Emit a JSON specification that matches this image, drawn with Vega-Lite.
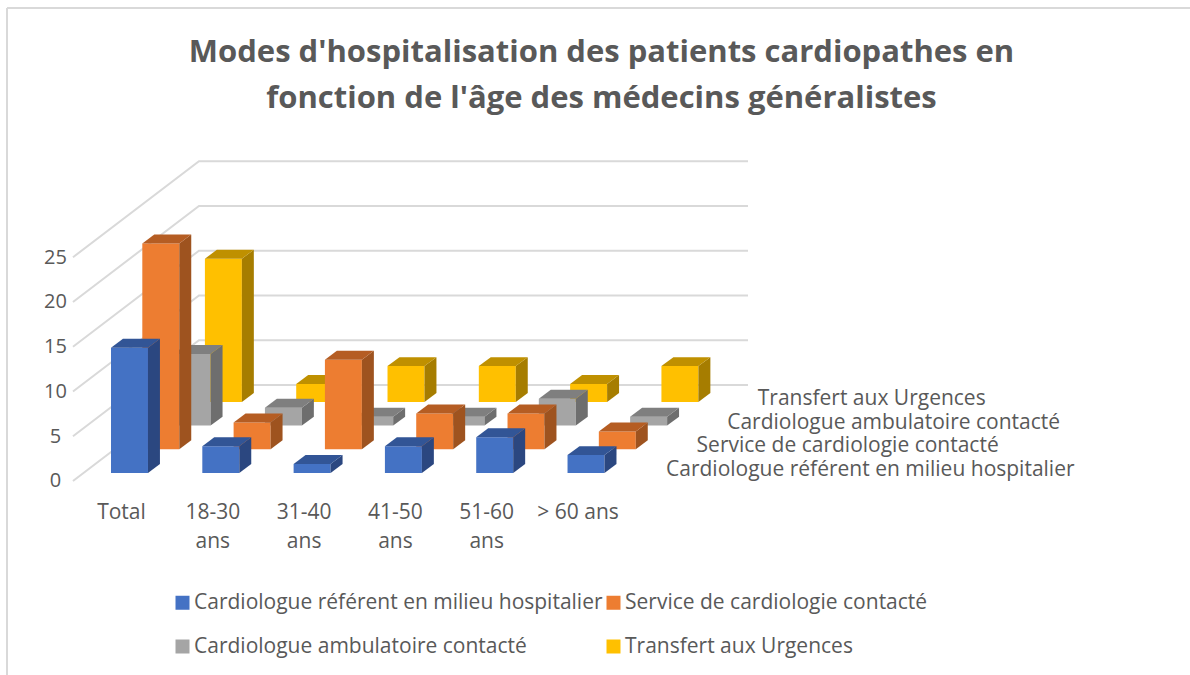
{
"$schema":"https://vega.github.io/schema/vega-lite/v6.json",
"width":1183,"height":667,
"autosize":{"type":"none"},
"padding":{"left":7,"top":8,"right":0,"bottom":0},
"background":"white",
"config":{"view":{"stroke":null},"font":"Open Sans"},
"title":{"text":["Modes d'hospitalisation des patients cardiopathes en","fonction de l'âge des médecins généralistes"],"anchor":"middle","frame":"group","dx":3,"offset":-108,"fontSize":31,"lineHeight":46,"font":"Open Sans","fontWeight":"bold","color":"#595959"},
"datasets":{
"bars":[
{"category":"Total","series":"Transfert aux Urgences","value":16},
{"category":"18-30 ans","series":"Transfert aux Urgences","value":2},
{"category":"31-40 ans","series":"Transfert aux Urgences","value":4},
{"category":"41-50 ans","series":"Transfert aux Urgences","value":4},
{"category":"51-60 ans","series":"Transfert aux Urgences","value":2},
{"category":"> 60 ans","series":"Transfert aux Urgences","value":4},
{"category":"Total","series":"Cardiologue ambulatoire contacté","value":8},
{"category":"18-30 ans","series":"Cardiologue ambulatoire contacté","value":2},
{"category":"31-40 ans","series":"Cardiologue ambulatoire contacté","value":1},
{"category":"41-50 ans","series":"Cardiologue ambulatoire contacté","value":1},
{"category":"51-60 ans","series":"Cardiologue ambulatoire contacté","value":3},
{"category":"> 60 ans","series":"Cardiologue ambulatoire contacté","value":1},
{"category":"Total","series":"Service de cardiologie contacté","value":23},
{"category":"18-30 ans","series":"Service de cardiologie contacté","value":3},
{"category":"31-40 ans","series":"Service de cardiologie contacté","value":10},
{"category":"41-50 ans","series":"Service de cardiologie contacté","value":4},
{"category":"51-60 ans","series":"Service de cardiologie contacté","value":4},
{"category":"> 60 ans","series":"Service de cardiologie contacté","value":2},
{"category":"Total","series":"Cardiologue référent en milieu hospitalier","value":14},
{"category":"18-30 ans","series":"Cardiologue référent en milieu hospitalier","value":3},
{"category":"31-40 ans","series":"Cardiologue référent en milieu hospitalier","value":1},
{"category":"41-50 ans","series":"Cardiologue référent en milieu hospitalier","value":3},
{"category":"51-60 ans","series":"Cardiologue référent en milieu hospitalier","value":4},
{"category":"> 60 ans","series":"Cardiologue référent en milieu hospitalier","value":2}
],
"ticks":[{"v":0},{"v":5},{"v":10},{"v":15},{"v":20},{"v":25}],
"seriesNames":[
{"series":"Cardiologue référent en milieu hospitalier","j":0},
{"series":"Service de cardiologie contacté","j":1},
{"series":"Cardiologue ambulatoire contacté","j":2},
{"series":"Transfert aux Urgences","j":3}
]
},
"layer":[
{"data":{"values":[{"frame":"left"}]},"mark":{"type":"rule","color":"#d9d9d9","strokeWidth":2},"encoding":{"x":{"value":0}}},
{"data":{"values":[{"frame":"top"}]},"mark":{"type":"rule","color":"#d9d9d9","strokeWidth":2},"encoding":{"y":{"value":0}}},
{"data":{"name":"ticks"},
"transform":[
{"calculate":"[{o:0,x:-0.526,y:datum.v},{o:1,x:0.854,y:datum.v+10.73},{o:2,x:6.867,y:datum.v+10.73}]","as":"p"},
{"flatten":["p"]},
{"calculate":"datum.p.x","as":"px"},{"calculate":"datum.p.y","as":"py"}
],
"mark":{"type":"line","color":"#d9d9d9","strokeWidth":2},
"encoding":{
"x":{"field":"px","type":"quantitative","scale":{"domain":[-1.2486,11.708],"nice":false,"zero":false},"axis":{"title":null,"values":[0,1,2,3,4,5],"orient":"bottom","offset":-174,"domain":false,"ticks":false,"grid":false,"labelPadding":0,"labelFlush":false,"labelOverlap":false,"labelBound":false,"labelFontSize":21,"labelColor":"#595959","labelLineHeight":29,"labelBaseline":"top","labelExpr":"[['Total'],['18-30','ans'],['31-40','ans'],['41-50','ans'],['51-60','ans'],['> 60 ans']][datum.value]"}},
"y":{"field":"py","type":"quantitative","scale":{"domain":[-21.68,52.85],"nice":false,"zero":false},"axis":{"title":null,"values":[0,5,10,15,20,25],"orient":"left","offset":-48,"domain":false,"ticks":false,"grid":false,"labelPadding":0,"labelAlign":"center","labelOffset":0,"labelFontSize":20,"labelColor":"#595959","labelBound":false,"labelOverlap":false}},
"detail":{"field":"v","type":"nominal"}
}},
{"data":{"name":"bars"},
"transform":[
{"calculate":"indexof(['Total','18-30 ans','31-40 ans','41-50 ans','51-60 ans','> 60 ans'],datum.category)","as":"i"},
{"calculate":"indexof(['Cardiologue référent en milieu hospitalier','Service de cardiologie contacté','Cardiologue ambulatoire contacté','Transfert aux Urgences'],datum.series)","as":"j"},
{"calculate":"datum.i-0.1095+0.3428*datum.j","as":"xl"},
{"calculate":"0.894+2.648*datum.j","as":"b"},
{"calculate":"[{f:'front',x:datum.xl,y:datum.b,y2:datum.b+datum.value},{f:'front',x:datum.xl+0.405,y:datum.b,y2:datum.b+datum.value},{f:'side',x:datum.xl+0.405,y:datum.b,y2:datum.b+datum.value},{f:'side',x:datum.xl+0.536,y:datum.b+1,y2:datum.b+datum.value+1},{f:'top',x:datum.xl,y:datum.b+datum.value,y2:datum.b+datum.value},{f:'top',x:datum.xl+0.131,y:datum.b+datum.value,y2:datum.b+datum.value+1},{f:'top',x:datum.xl+0.405,y:datum.b+datum.value,y2:datum.b+datum.value+1},{f:'top',x:datum.xl+0.536,y:datum.b+datum.value+1,y2:datum.b+datum.value+1}]","as":"p"},
{"flatten":["p"]},
{"calculate":"datum.p.x","as":"px"},{"calculate":"datum.p.y","as":"py"},{"calculate":"datum.p.y2","as":"py2"},
{"calculate":"datum.p.f=='front'?datum.series:datum.series+' ('+datum.p.f+')'","as":"shade"},
{"calculate":"datum.category+'|'+datum.series+'|'+datum.p.f","as":"face"}
],
"mark":{"type":"area","interpolate":"linear"},
"encoding":{
"x":{"field":"px","type":"quantitative"},
"y":{"field":"py","type":"quantitative","stack":null},
"y2":{"field":"py2"},
"detail":{"field":"face","type":"nominal"},
"color":{"field":"shade","type":"nominal","scale":{
"domain":["Cardiologue référent en milieu hospitalier","Service de cardiologie contacté","Cardiologue ambulatoire contacté","Transfert aux Urgences","Cardiologue référent en milieu hospitalier (side)","Service de cardiologie contacté (side)","Cardiologue ambulatoire contacté (side)","Transfert aux Urgences (side)","Cardiologue référent en milieu hospitalier (top)","Service de cardiologie contacté (top)","Cardiologue ambulatoire contacté (top)","Transfert aux Urgences (top)"],
"range":["#4472C4","#ED7D31","#A5A5A5","#FFC000","#2B4780","#9E531F","#6E6E6E","#A67D00","#325596","#B55D23","#7F7F7F","#BF9000"]},
"legend":{"title":null,"values":["Cardiologue référent en milieu hospitalier","Cardiologue ambulatoire contacté","Service de cardiologie contacté","Transfert aux Urgences"],"orient":"none","legendX":165,"legendY":584,"columns":2,"symbolType":"square","symbolSize":196,"symbolStrokeWidth":0,"labelFontSize":21,"labelColor":"#595959","labelOffset":1,"rowPadding":22,"columnPadding":0,"labelLimit":500}}
}},
{"data":{"name":"seriesNames"},
"transform":[
{"calculate":"5.969+0.335*datum.j","as":"lx"},
{"calculate":"1.23+2.648*datum.j","as":"ly"}
],
"mark":{"type":"text","align":"left","baseline":"middle","fontSize":21,"color":"#595959"},
"encoding":{
"x":{"field":"lx","type":"quantitative"},
"y":{"field":"ly","type":"quantitative"},
"text":{"field":"series","type":"nominal"}
}}
]
}
